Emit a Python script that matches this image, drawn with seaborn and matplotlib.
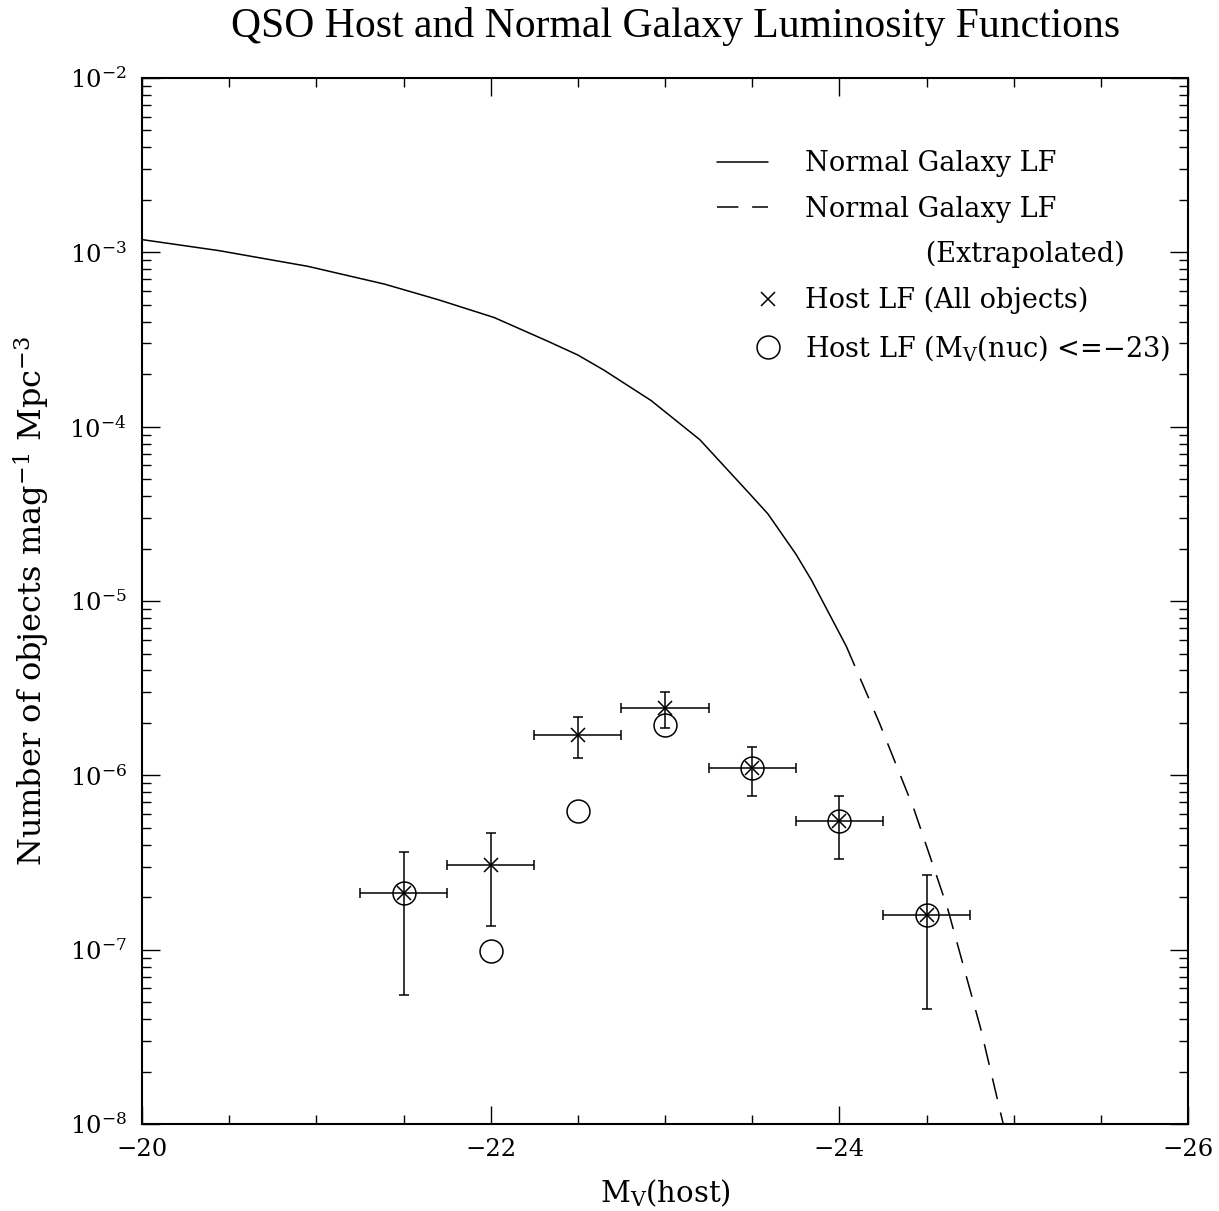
import numpy as np
import matplotlib
matplotlib.use("Agg")
import matplotlib.pyplot as plt
import seaborn as sns
from matplotlib.lines import Line2D
from matplotlib.legend_handler import HandlerLine2D
from matplotlib.ticker import MultipleLocator, LogLocator, NullFormatter

# ---------------- data ----------------
lf_solid_M = [-20.0, -20.44, -20.95, -21.39, -21.70, -22.02, -22.33, -22.50, -22.65,
              -22.92, -23.20, -23.49, -23.59, -23.75, -23.84, -24.04]
lf_solid_logphi = [-2.927, -2.99, -3.080, -3.182, -3.272, -3.374, -3.511, -3.589, -3.676,
                   -3.85, -4.075, -4.39, -4.50, -4.73, -4.88, -5.26]

lf_ext_M = [-24.04, -24.23, -24.43, -24.62, -24.81, -24.94]
lf_ext_logphi = [-5.26, -5.70, -6.20, -6.76, -7.45, -8.0]

host_M = [-21.5, -22.0, -22.5, -23.0, -23.5, -24.0, -24.5]
host_all_phi = [2.11e-7, 3.05e-7, 1.71e-6, 2.45e-6, 1.10e-6, 5.46e-7, 1.58e-7]
host_all_hi = [3.63e-7, 4.68e-7, 2.15e-6, 3.00e-6, 1.45e-6, 7.6e-7, 2.67e-7]
host_all_lo = [5.5e-8, 1.36e-7, 1.26e-6, 1.88e-6, 7.6e-7, 3.32e-7, 4.55e-8]
host_bright_phi = [2.11e-7, 9.85e-8, 6.24e-7, 1.94e-6, 1.10e-6, 5.46e-7, 1.58e-7]
bin_halfwidth = [0.25] * 7

legend_labels = ["Normal Galaxy LF", "Normal Galaxy LF", "              (Extrapolated)",
                 "Host LF (All objects)", "Host LF (M$_\\mathrm{V}$(nuc) <=\u221223)"]
title_text = "QSO Host and Normal Galaxy Luminosity Functions"
xlabel_text = "M$_\\mathrm{V}$(host)"
ylabel_text = "Number of objects mag$^{-1}$ Mpc$^{-3}$"

# ---------------- style ----------------
sns.set_theme(style="ticks")
plt.rcParams.update({
    "font.family": ["DejaVu Serif"],
    "mathtext.fontset": "dejavuserif",
    "mathtext.default": "rm",
    "text.color": "black",
    "axes.edgecolor": "black",
    "axes.labelcolor": "black",
    "axes.linewidth": 1.5,
    "xtick.color": "black",
    "ytick.color": "black",
    "xtick.direction": "in",
    "ytick.direction": "in",
    "xtick.top": True,
    "ytick.right": True,
    "xtick.major.size": 13,
    "ytick.major.size": 13,
    "xtick.minor.size": 6.5,
    "ytick.minor.size": 6.5,
    "xtick.major.width": 1.0,
    "ytick.major.width": 1.0,
    "xtick.minor.width": 1.0,
    "ytick.minor.width": 1.0,
    "xtick.major.pad": 10,
    "ytick.major.pad": 11,
})

LW = 1.1
DASH = (0, (14, 9))

fig = plt.figure(figsize=(12.19, 12.11), dpi=100)
ax = fig.add_axes([0.1165, 0.0718, 0.8581, 0.8638])

sns.lineplot(x=lf_solid_M, y=10 ** np.array(lf_solid_logphi), ax=ax, color="black",
             lw=LW, sort=False, estimator=None)
sns.lineplot(x=lf_ext_M, y=10 ** np.array(lf_ext_logphi), ax=ax, color="black",
             lw=LW, sort=False, estimator=None, linestyle=DASH)

phi = np.array(host_all_phi)
yerr = [phi - np.array(host_all_lo), np.array(host_all_hi) - phi]
ax.errorbar(host_M, phi, xerr=bin_halfwidth, yerr=yerr, fmt="x", color="black",
            ms=9.5, mew=LW, elinewidth=LW, capsize=3.3, capthick=LW)
ax.plot(host_M, host_bright_phi, "o", mfc="none", mec="black", ms=16.5, mew=LW)

ax.set_yscale("log")
ax.set_xlim(-20, -26)
ax.set_ylim(1e-8, 1e-2)
ax.xaxis.set_major_locator(MultipleLocator(2))
ax.xaxis.set_minor_locator(MultipleLocator(0.5))
ax.yaxis.set_major_locator(LogLocator(base=10, numticks=20))
ax.yaxis.set_minor_locator(LogLocator(base=10, subs=np.arange(2, 10), numticks=20))
ax.yaxis.set_minor_formatter(NullFormatter())
ax.tick_params(labelsize=17.5)

ax.set_xlabel(xlabel_text, fontsize=21)
ax.xaxis.set_label_coords(0.5, -0.051)
ax.set_ylabel(ylabel_text, fontsize=23)
ax.yaxis.set_label_coords(-0.086, 0.5)

fig.text(676 / 1219, 1 - 27 / 1211, title_text, ha="center", va="center",
         family=["Liberation Serif"], fontsize=30)


class RightMarkerHandler(HandlerLine2D):
    """Place the single legend marker at the right end of the handle box."""
    def get_xdata(self, legend, xdescent, ydescent, width, height, fontsize):
        right = -xdescent + width
        return np.array([right, right]), np.array([right])


handles = [
    Line2D([], [], color="black", lw=LW),
    Line2D([], [], color="black", lw=LW, linestyle=DASH),
    Line2D([], [], linestyle="none"),
    Line2D([], [], linestyle="none", marker="x", ms=9.5, mew=LW, color="black"),
    Line2D([], [], linestyle="none", marker="o", ms=16.5, mew=LW, mfc="none", mec="black"),
]
hmap = {handles[3]: RightMarkerHandler(numpoints=1), handles[4]: RightMarkerHandler(numpoints=1)}
ax.legend(handles, legend_labels, handler_map=hmap, loc="upper left",
          bbox_to_anchor=(0.5497, 0.931), frameon=False, borderpad=0, borderaxespad=0,
          handlelength=1.88, handletextpad=1.37, labelspacing=0.68, fontsize=19.5)

fig.savefig("out.png", dpi=100)
